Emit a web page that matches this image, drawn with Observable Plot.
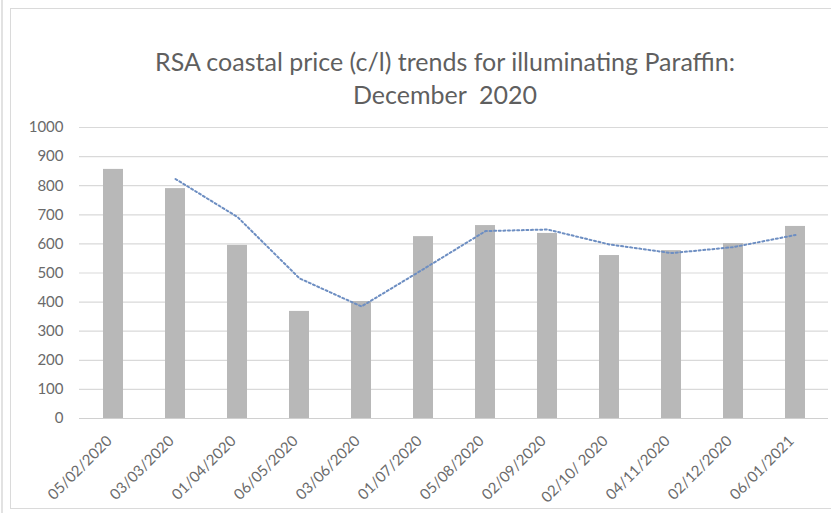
<!DOCTYPE html>
<html>
<head>
<meta charset="utf-8">
<script src="https://cdn.jsdelivr.net/npm/d3@7"></script>
<script src="https://cdn.jsdelivr.net/npm/@observablehq/plot@0.6"></script>
<style>
  html, body { margin: 0; padding: 0; background: #fff; }
  body { width: 831px; height: 513px; overflow: hidden; position: relative; font-family: Lato, "DejaVu Sans", sans-serif; }
  .outer { position: absolute; left: 1px; top: 0; width: 2px; height: 513px; background: #e2e2e2; }
  .frame { position: absolute; left: 10px; top: 8px; width: 840px; height: 501px; border: 1.5px solid #dadada; box-sizing: border-box; }
  .title { position: absolute; left: 0; top: 45px; width: 890px; text-align: center; font-size: 25px; line-height: 33px; color: #5f5f5f; white-space: pre; }
  #chart { position: absolute; left: 0; top: 115px; }
</style>
</head>
<body>
<div class="outer"></div>
<div class="frame"></div>
<div class="title">RSA coastal price (c/l) trends for illuminating Paraffin:
December  2020</div>
<div id="chart"></div>
<script>
const dates = ["05/02/2020", "03/03/2020", "01/04/2020", "06/05/2020", "03/06/2020", "01/07/2020",
               "05/08/2020", "02/09/2020", "02/10/ 2020", "04/11/2020", "02/12/2020", "06/01/2021"];
const prices = [856, 790, 595, 368, 402, 625, 663, 636, 560, 577, 601, 660];
const yTicks = [0, 100, 200, 300, 400, 500, 600, 700, 800, 900, 1000];

const data = dates.map((d, i) => ({date: d, price: prices[i]}));

const chart = Plot.plot({
  width: 831,
  height: 398,
  marginTop: 12,
  marginBottom: 95,
  marginLeft: 79,
  marginRight: 3,
  style: {fontFamily: "Lato, sans-serif", background: "transparent", color: "#666"},
  x: {domain: dates, paddingInner: 0.68, paddingOuter: 0.34, align: 0.5, label: null},
  y: {domain: [0, 1000], label: null},
  marks: [
    Plot.gridY(yTicks, {stroke: "#d9d9d9", strokeOpacity: 1, strokeWidth: 1.2}),
    Plot.barY(data, {x: "date", y: "price", fill: "#b8b8b8"}),
    Plot.lineY(data, Plot.windowY({k: 2, anchor: "end", strict: true}, {x: "date", y: "price", stroke: "#6d8ec2", strokeWidth: 2, strokeDasharray: "2,2.6"})),
    Plot.axisY({ticks: yTicks, tickFormat: d => String(d), tickSize: 0, tickPadding: 16, fontSize: 15, fill: "#6a6a6a"}),
    Plot.axisX({tickSize: 0, tickPadding: 20, dx: -4, tickRotate: -45, fontSize: 15, fill: "#6a6a6a"}),
    Plot.ruleY([0], {stroke: "#d0d0d0", strokeWidth: 1.2})
  ]
});
document.getElementById("chart").appendChild(chart);
</script>
</body>
</html>
